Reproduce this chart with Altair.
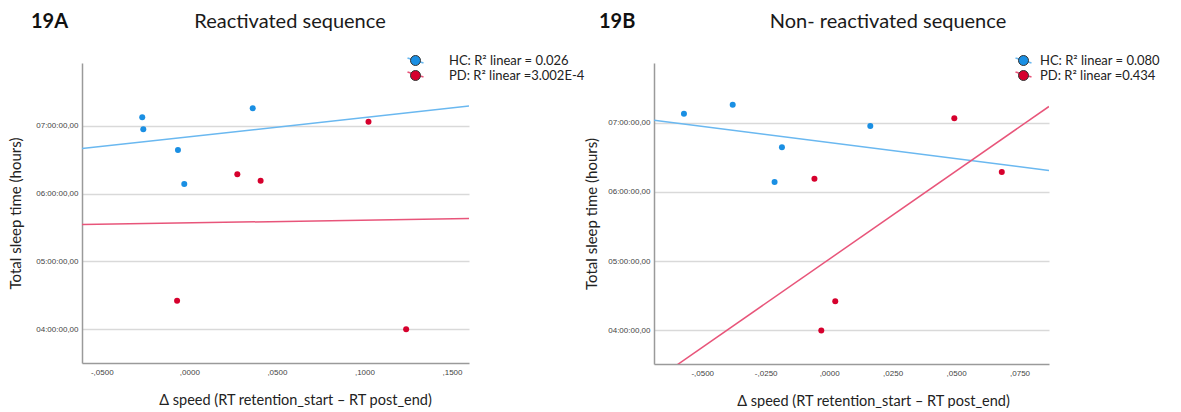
import altair as alt
import pandas as pd

# ---- data ----
group_names = ["HC", "PD"]
fit_names = ["HC fit", "PD fit"]
sleep_hc = [7.128, 6.951, 7.261, 6.645, 6.143]      # total sleep time (hours)
sleep_pd = [7.064, 6.287, 6.192, 4.420, 3.997]
speed_a_hc = [-0.0269, -0.0263, 0.0362, -0.0065, -0.0029]
speed_a_pd = [0.1023, 0.0274, 0.0407, -0.0070, 0.1238]
speed_b_hc = [-0.0572, 0.0162, -0.0380, -0.0186, -0.0215]
speed_b_pd = [0.0493, 0.0680, -0.0058, 0.0024, -0.0031]
legend_a = ["HC: R² linear = 0.026", "PD: R² linear =3.002E-4"]
legend_b = ["HC: R² linear = 0.080", "PD: R² linear =0.434"]
xticks_a = [-0.05, 0.0, 0.05, 0.10, 0.15]
xticks_b = [-0.05, -0.025, 0.0, 0.025, 0.05, 0.075]
yticks = [4, 5, 6, 7]
xdom_a = [-0.0613, 0.1597]
xdom_b = [-0.069, 0.0866]
ydom_a = [3.5, 7.93]
ydom_b = [3.513, 7.863]

point_colors = ["#1a8fe3", "#d6002d"]
line_colors = ["#6ab8f0", "#e8557a"]

X_TITLE = "Δ speed (RT retention_start – RT post_end)"
Y_TITLE = "Total sleep time (hours)"
XLAB = "(datum.value < 0 ? '-' : '') + replace(format(abs(datum.value), '.4f'), '0.', ',')"
YLAB = "(datum.value < 10 ? '0' : '') + datum.value + ':00:00,00'"


def panel(xs_hc, xs_pd, xdom, ydom, xticks, tag, title, labels, w, h,
          tag_xy, title_xy, xtitle_x, ytitle_x, leg_xy, leg_off):
    n_hc, n_pd = len(xs_hc), len(xs_pd)
    df = pd.DataFrame({
        "speed": xs_hc + xs_pd,
        "tst": sleep_hc + sleep_pd,
        "group": [group_names[0]] * n_hc + [group_names[1]] * n_pd,
        "fit_group": [fit_names[0]] * n_hc + [fit_names[1]] * n_pd,
    })
    base = alt.Chart(df)
    xenc = alt.X("speed:Q", scale=alt.Scale(domain=xdom, nice=False, zero=False),
                 axis=alt.Axis(values=xticks, labelExpr=XLAB, title=X_TITLE, grid=False,
                               ticks=False, labelPadding=5, labelFont="Liberation Sans",
                               labelFontSize=8, labelColor="#444", domainColor="#9a9a9a",
                               domainWidth=1.5, titleFont="Lato", titleFontSize=14.5,
                               titleFontWeight="normal", titleColor="#222",
                               titleX=xtitle_x, titleY=37, titleBaseline="middle",
                               titleAlign="center"))
    yenc = alt.Y("tst:Q", scale=alt.Scale(domain=ydom, nice=False, zero=False),
                 axis=alt.Axis(values=yticks, labelExpr=YLAB, title=Y_TITLE, grid=True,
                               gridColor="#d9d9d9", gridWidth=1.5, ticks=False,
                               labelPadding=4, labelFont="Liberation Sans", labelFontSize=8,
                               labelColor="#444", domainColor="#9a9a9a", domainWidth=1.5,
                               titleFont="Lato", titleFontSize=15, titleFontWeight="normal",
                               titleColor="#222", titleX=ytitle_x, titleY=h / 2,
                               titleBaseline="middle", titleAlign="center"))
    lab_expr = (f"indexof(datum.label, '{group_names[0]}') == 0"
                f" ? '{labels[0]}' : '{labels[1]}'")
    common_leg = dict(orient="none", legendX=leg_xy[0], legendY=leg_xy[1], title=None,
                      padding=0, symbolSize=100, labelFont="Lato",
                      labelFontSize=13, labelOffset=leg_off, rowPadding=0)
    lines = base.transform_regression(
        "speed", "tst", groupby=["fit_group"], extent=xdom
    ).mark_line(clip=True, strokeWidth=1.5).encode(
        x=xenc, y=yenc,
        stroke=alt.Stroke("fit_group:N",
                          scale=alt.Scale(domain=fit_names, range=line_colors),
                          legend=alt.Legend(symbolType="M-1.6,-0.5L1.6,0.5",
                                            symbolStrokeWidth=1.5, labelExpr="' '", zindex=0,
                                            **common_leg)),
    )
    pts = base.mark_circle(size=36, opacity=1).encode(
        x=xenc, y=yenc,
        fill=alt.Fill("group:N", scale=alt.Scale(domain=group_names, range=point_colors),
                      legend=alt.Legend(symbolType="circle", symbolStrokeColor="#333",
                                        symbolStrokeWidth=1, labelColor="#222", zindex=1,
                                        labelExpr=lab_expr, **common_leg)),
    )
    tag_c = alt.Chart(pd.DataFrame({"t": [tag]})).mark_text(
        font="Lato", fontSize=20, fontWeight="bold", align="left", baseline="alphabetic",
        color="#111"
    ).encode(text="t:N", x=alt.value(tag_xy[0]), y=alt.value(tag_xy[1]))
    title_c = alt.Chart(pd.DataFrame({"t": [title]})).mark_text(
        font="Lato", fontSize=20, align="center", baseline="alphabetic", color="#1a1a1a"
    ).encode(text="t:N", x=alt.value(title_xy[0]), y=alt.value(title_xy[1]))
    return alt.layer(lines, pts, tag_c, title_c).properties(width=w, height=h)


pa = panel(speed_a_hc, speed_a_pd, xdom_a, ydom_a, xticks_a, "19A", "Reactivated sequence",
           legend_a, 387, 300, (-51, -35), (208, -35), 213, -67, (327, -9), 27)
pb = panel(speed_b_hc, speed_b_pd, xdom_b, ydom_b, xticks_b, "19B", "Non- reactivated sequence",
           legend_b, 395, 301, (-55, -35), (234, -35), 219, -63, (363, -9), 10)

chart = alt.hconcat(pa, pb, spacing=185, bounds="flush").resolve_scale(
    fill="independent", stroke="independent", x="independent", y="independent"
).resolve_legend(fill="independent", stroke="independent").properties(
    padding={"left": 8, "top": 12, "right": 0, "bottom": 0},
    background="white",
).configure_view(stroke=None)

chart.save("out.html", embed_options={"renderer": "svg", "actions": False})
